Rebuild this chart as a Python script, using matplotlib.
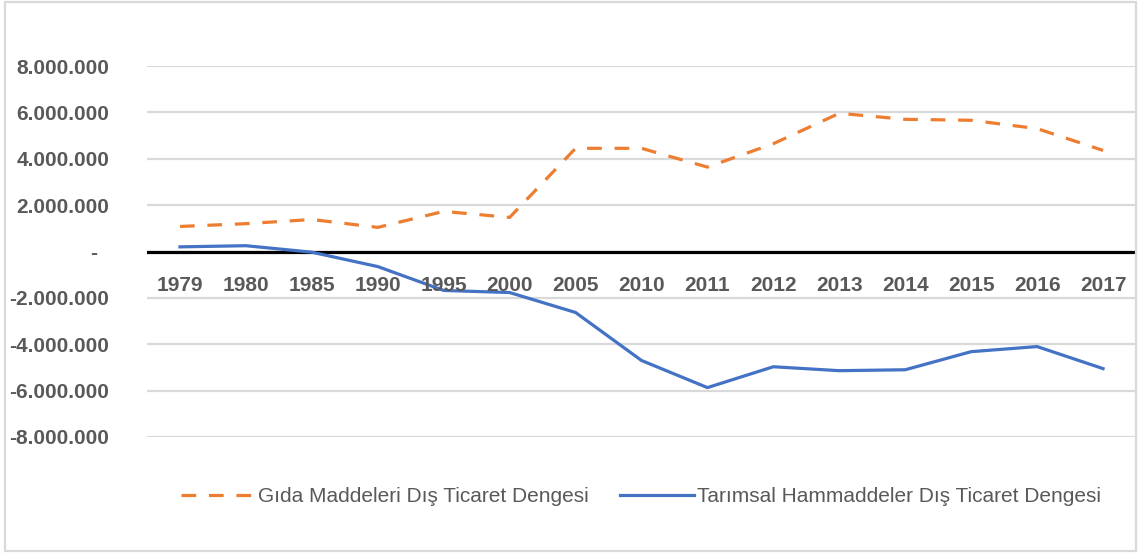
import matplotlib
matplotlib.use("Agg")
import matplotlib.pyplot as plt
import matplotlib.transforms as mtransforms
from matplotlib.patches import Rectangle
from matplotlib.ticker import FuncFormatter, MultipleLocator

years = ["1979", "1980", "1985", "1990", "1995", "2000", "2005", "2010",
         "2011", "2012", "2013", "2014", "2015", "2016", "2017"]
gida = [1080000, 1200000, 1380000, 1040000, 1730000, 1470000, 4450000, 4450000,
        3640000, 4650000, 5960000, 5700000, 5660000, 5300000, 4360000]
tarim = [200000, 250000, -30000, -650000, -1680000, -1770000, -2630000, -4700000,
         -5870000, -4970000, -5140000, -5100000, -4320000, -4100000, -5050000]
labels = ["Gıda Maddeleri Dış Ticaret Dengesi", "Tarımsal Hammaddeler Dış Ticaret Dengesi"]

W, H = 1138, 554
fig = plt.figure(figsize=(W / 100, H / 100), dpi=100)
ax = fig.add_axes([147 / W, (H - 437) / H, 989 / W, 371 / H])

txt = "#595959"
font = "Liberation Sans"

x = list(range(len(years)))
l1, = ax.plot(x, gida, color="#ED7D31", lw=2.3, dashes=(4.6, 4.0), zorder=3)
l2, = ax.plot(x, tarim, color="#4472C4", lw=2.3, zorder=3)

ax.set_xlim(-0.5, len(years) - 0.5)
ax.set_ylim(-8000000, 8000000)
ax.yaxis.set_major_locator(MultipleLocator(2000000))
ax.grid(axis="y", color="#d9d9d9", lw=1.6, zorder=0)
ax.axhline(0, color="black", lw=2.3, zorder=2)
for s in ax.spines.values():
    s.set_visible(False)


def fmt(v, pos):
    if abs(v) < 1:
        return "-  "
    return f"{v:,.0f}".replace(",", ".")


ax.yaxis.set_major_formatter(FuncFormatter(fmt))
ax.tick_params(axis="y", length=0, pad=27, labelsize=15, labelcolor=txt)
for lab in ax.get_yticklabels():
    lab.set_fontfamily(font)
    lab.set_fontweight("bold")
ax.set_xticks([])

# category labels sit just under the zero line
trans = mtransforms.offset_copy(ax.transData, fig=fig, y=-39.5, units="dots")
for i, yr in enumerate(years):
    ax.text(i, 0, yr, transform=trans, ha="center", va="baseline", fontsize=15,
            fontweight="bold", color=txt, family=font)

leg = fig.legend([l1, l2], labels, loc="center", bbox_to_anchor=(641 / W, (H - 497) / H),
                 ncol=2, frameon=False, handlelength=3.55, handletextpad=0.15,
                 columnspacing=1.5, prop={"family": font, "size": 15})
for t in leg.get_texts():
    t.set_color(txt)

fig.patches.append(Rectangle((5 / W, (H - 551) / H), 1131 / W, 549 / H,
                             transform=fig.transFigure, fill=False,
                             edgecolor="#d9d9d9", lw=1.6))

fig.savefig("out.png", dpi=100)
